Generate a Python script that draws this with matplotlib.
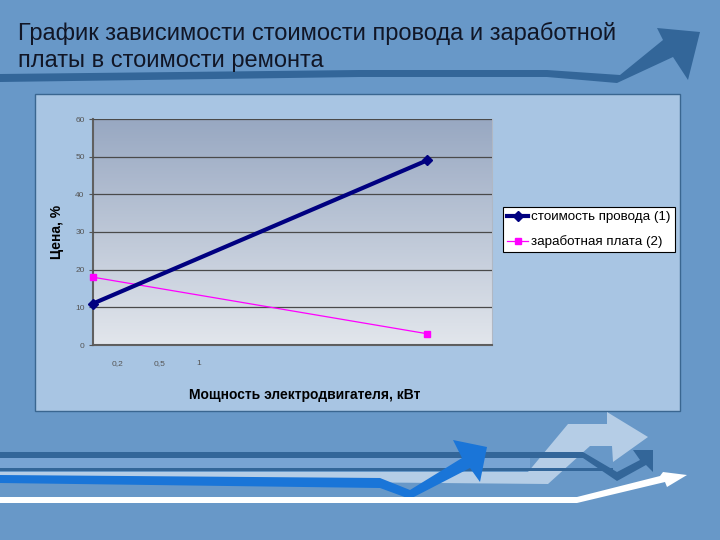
import matplotlib
matplotlib.use("Agg")
import matplotlib.pyplot as plt
import matplotlib.patches as patches
import numpy as np

# ── данные ──
title_lines = ["График зависимости стоимости провода и заработной",
               "платы в стоимости ремонта"]
series_names = ["стоимость провода (1)", "заработная плата (2)"]
x_points = [0, 1]
wire_cost = [11, 49]
salary = [18, 3]
x_tick_labels = ["0,2", "0,5", "1"]
x_tick_pos = [0.072, 0.2, 0.317]
y_ticks = [0, 10, 20, 30, 40, 50, 60]
x_label = "Мощность электродвигателя, кВт"
y_label = "Цена, %"

BG = "#6898c8"
DARK = "#336699"

plt.rcParams["font.family"] = ["Liberation Sans", "DejaVu Sans"]

fig = plt.figure(figsize=(7.2, 5.4), dpi=100)
fig.patch.set_facecolor(BG)

# фон слайда в пикселях
deco = fig.add_axes([0, 0, 1, 1])
deco.set_xlim(0, 720)
deco.set_ylim(540, 0)
deco.axis("off")

# верхняя линия + стрелка
deco.add_patch(patches.Polygon(
    [(0, 74), (360, 70), (547, 70), (620, 75), (663, 40), (657, 28), (700, 32),
     (688, 80), (673, 57), (617, 83), (547, 77), (360, 77), (0, 82)],
    closed=True, facecolor=DARK, edgecolor="none"))

# рамка диаграммы
deco.add_patch(patches.Rectangle((35, 94), 645, 317, facecolor="#a8c5e3",
                                 edgecolor="#3a6690", linewidth=1))

# нижние полосы
deco.add_patch(patches.Polygon(
    [(0, 472), (528, 472), (568, 424), (607, 424), (607, 412), (648, 437),
     (613, 462), (612, 446), (590, 446), (548, 484), (0, 479)],
    closed=True, facecolor="#b5cde6", edgecolor="none"))
deco.add_patch(patches.Rectangle((0, 458), 530, 10, facecolor="#78a4d4", edgecolor="none"))
deco.add_patch(patches.Polygon(
    [(0, 452), (583, 452), (617, 472), (640, 460), (633, 450), (653, 450), (653, 472),
     (646, 465), (617, 481), (583, 458), (0, 458)],
    closed=True, facecolor=DARK, edgecolor="none"))
deco.add_patch(patches.Rectangle((0, 468), 613, 3, facecolor=DARK, edgecolor="none"))
deco.add_patch(patches.Polygon(
    [(0, 475), (380, 478), (410, 490), (462, 458), (453, 440), (487, 447), (480, 482),
     (470, 468), (410, 499), (380, 488), (0, 483)],
    closed=True, facecolor="#1a75d8", edgecolor="none"))
deco.add_patch(patches.Polygon(
    [(0, 497), (577, 497), (660, 476), (663, 472), (687, 475), (667, 487),
     (665, 482), (577, 503), (0, 503)],
    closed=True, facecolor="white", edgecolor="none"))

for text, base in zip(title_lines, [40, 67]):
    fig.text(18, 540 - base, text, transform=None, fontsize=17, color="#111626",
             va="baseline")

# график
ax = fig.add_axes([93 / 720, 1 - 345 / 540, 399 / 720, 226 / 540])
xlim = (0, 1.195)
ylim = (0, 60)
grad = np.linspace(0, 1, 256).reshape(-1, 1)
top_c = np.array([0x98, 0xa8, 0xc2]) / 255
bot_c = np.array([0xe2, 0xe6, 0xec]) / 255
img = top_c * (1 - grad[..., None]) + bot_c * grad[..., None]
ax.imshow(img, aspect="auto", extent=(*xlim, *ylim), origin="upper", zorder=0)
ax.set_xlim(*xlim)
ax.set_ylim(*ylim)

ax.set_yticks(y_ticks)
ax.set_yticklabels([str(v) for v in y_ticks], fontsize=6, color="#555555")
ax.tick_params(axis="y", length=3, color="#555555", pad=3)
ax.set_xticks(x_tick_pos)
ax.set_xticklabels(x_tick_labels, fontsize=6, color="#555555")
ax.tick_params(axis="x", length=0, pad=11)
ax.yaxis.grid(True, color="#4a4a4a", linewidth=0.9, zorder=1)
ax.set_axisbelow(False)
for side in ("left", "bottom"):
    ax.spines[side].set_color("#606060")
    ax.spines[side].set_linewidth(1.5)
for side in ("top", "right"):
    ax.spines[side].set_color("#b0b8c4")
    ax.spines[side].set_linewidth(0.8)

ax.plot(x_points, wire_cost, color="#000080", linewidth=3, marker="D", markersize=5,
        label=series_names[0], zorder=4, clip_on=False)
ax.plot(x_points, salary, color="#ff00ff", linewidth=0.9, marker="s", markersize=4,
        label=series_names[1], zorder=3, clip_on=False)

ax.set_xlabel(x_label, fontsize=10, fontweight="bold")
ax.xaxis.set_label_coords((305 - 93) / 399, -(395 - 345) / 226)
ax.set_ylabel(y_label, fontsize=10, fontweight="bold")
ax.yaxis.set_label_coords(-(93 - 57) / 399, (345 - 232) / 226)
ax.xaxis.label.set_va("center")
ax.yaxis.label.set_va("center")

leg = fig.legend(loc="upper left", bbox_to_anchor=(503 / 720, 1 - 207 / 540),
                 fontsize=9.6, frameon=True, fancybox=False, handlelength=1.6,
                 handletextpad=0.2, borderpad=0.3, labelspacing=0.9,
                 borderaxespad=0, framealpha=1)
leg.get_frame().set_edgecolor("black")
leg.get_frame().set_linewidth(0.8)

fig.savefig("out.png", dpi=100, facecolor=BG)
